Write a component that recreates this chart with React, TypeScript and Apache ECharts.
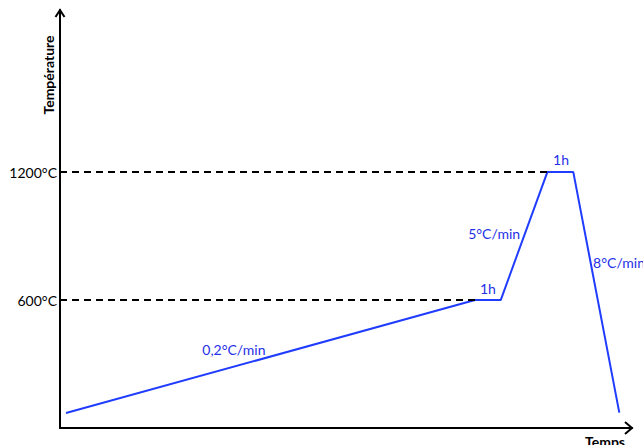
import React, { useEffect, useRef } from "react";
import * as echarts from "echarts";

// Temperature profile (time in arbitrary units, temperature in °C)
const timePoints = [1.05, 72.55, 77.05, 85.2, 89.74, 97.78];
const temperatures = [70, 600, 600, 1200, 1200, 72];

// Y tick labels
const yTicks = [600, 1200];

// Annotations along the curve
const annotationText = ["0,2°C/min", "1h", "5°C/min", "1h", "8°C/min"];
const annotationTime = [30.4, 74.8, 75.9, 87.6, 93.2];
const annotationTemp = [366, 652, 910, 1257, 774];
const annotationAlign = ["center", "center", "center", "center", "left"];

const BLUE = "#1f3cff";
const TEXT_BLUE = "#2430e8";
const FONT = "Lato, 'Open Sans', sans-serif";

export default function App() {
  const ref = useRef<HTMLDivElement>(null);

  useEffect(() => {
    if (!ref.current) return;
    const chart = echarts.init(ref.current, null, { renderer: "svg" });
    const data = timePoints.map((t, i) => [t, temperatures[i]]);

    chart.setOption({
      animation: false,
      grid: { left: 60, right: 11, top: 10, bottom: 17, containLabel: false },
      xAxis: {
        type: "value",
        min: 0,
        max: 100,
        axisLine: { show: true, onZero: false, lineStyle: { color: "#000", width: 2 } },
        axisTick: { show: false },
        axisLabel: { show: false },
        splitLine: { show: false },
      },
      yAxis: {
        type: "value",
        min: 0,
        max: 1960,
        interval: 600,
        axisLine: { show: true, onZero: false, lineStyle: { color: "#000", width: 2 } },
        axisTick: { show: false },
        splitLine: { show: false },
        axisLabel: {
          show: true,
          customValues: yTicks,
          color: "#000",
          fontSize: 14,
          fontFamily: FONT,
          margin: 3,
          formatter: (v: number) => (yTicks.includes(v) ? `${v}°C` : ""),
        },
      },
      series: [
        {
          type: "line",
          data,
          showSymbol: false,
          symbol: "none",
          lineStyle: { color: BLUE, width: 2 },
          itemStyle: { color: BLUE },
          markLine: {
            silent: true,
            symbol: "none",
            label: { show: false },
            lineStyle: { color: "#000", type: [7, 5], width: 2 },
            data: [
              [{ coord: [0, temperatures[1]] }, { coord: [timePoints[1], temperatures[1]] }],
              [{ coord: [0, temperatures[3]] }, { coord: [timePoints[3], temperatures[3]] }],
            ],
          },
        },
      ],
    });

    const texts = annotationText.map((txt, i) => {
      const p = chart.convertToPixel({ gridIndex: 0 }, [annotationTime[i], annotationTemp[i]]) as number[];
      return {
        type: "text",
        x: p[0],
        y: p[1],
        style: {
          text: txt,
          fill: TEXT_BLUE,
          fontSize: 14,
          fontFamily: FONT,
          align: annotationAlign[i],
          verticalAlign: "middle",
        },
      };
    });

    chart.setOption({
      graphic: [
        ...texts,
        {
          type: "text",
          x: 48,
          y: 75,
          rotation: Math.PI / 2,
          style: {
            text: "Température",
            fill: "#000",
            fontSize: 14,
            fontWeight: "bold",
            fontFamily: FONT,
            align: "center",
            verticalAlign: "middle",
          },
        },
        {
          type: "text",
          x: 605,
          y: 441,
          style: {
            text: "Temps",
            fill: "#000",
            fontSize: 14,
            fontWeight: "bold",
            fontFamily: FONT,
            align: "center",
            verticalAlign: "middle",
          },
        },
        {
          type: "polyline",
          shape: { points: [[55.5, 17], [60, 10], [64.5, 17]] },
          style: { stroke: "#000", lineWidth: 2, fill: null },
        },
        {
          type: "polyline",
          shape: { points: [[625, 422], [632, 428], [625, 434]] },
          style: { stroke: "#000", lineWidth: 2, fill: null },
        },
      ],
    });

    return () => chart.dispose();
  }, []);

  return <div ref={ref} style={{ width: 643, height: 445, position: "absolute", left: 0, top: 0 }} />;
}
